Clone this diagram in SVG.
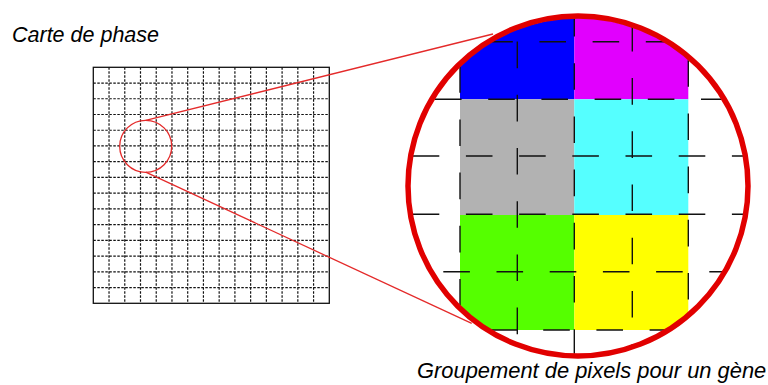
<svg xmlns="http://www.w3.org/2000/svg" width="768" height="385" viewBox="0 0 768 385">
<style>
.label{font-family:"Liberation Sans",Arial,sans-serif;font-style:italic;fill:#000;}
.smallgrid{fill:none;stroke:#111;stroke-width:1.2;stroke-dasharray:2.5 1.5;}
.biggrid{fill:none;stroke:#111;stroke-width:1.4;stroke-dasharray:26.6 26.6;}
.redthin{fill:none;stroke:#e42a2a;stroke-width:1.3;}
</style>
<defs>
<clipPath id="lensClip"><circle cx="578" cy="186" r="168"/></clipPath>
</defs>
<rect width="768" height="385" fill="#fff"/>
<g id="phase-map">
<path class="smallgrid" d="M109.03 67.3V303.3M124.77 67.3V303.3M140.5 67.3V303.3M156.23 67.3V303.3M171.97 67.3V303.3M187.7 67.3V303.3M203.43 67.3V303.3M219.17 67.3V303.3M234.9 67.3V303.3M250.63 67.3V303.3M266.37 67.3V303.3M282.1 67.3V303.3M297.83 67.3V303.3M313.57 67.3V303.3M93.3 83.03H329.3M93.3 98.77H329.3M93.3 114.5H329.3M93.3 130.23H329.3M93.3 145.97H329.3M93.3 161.7H329.3M93.3 177.43H329.3M93.3 193.17H329.3M93.3 208.9H329.3M93.3 224.63H329.3M93.3 240.37H329.3M93.3 256.1H329.3M93.3 271.83H329.3M93.3 287.57H329.3"/>
<rect x="93.3" y="67.3" width="236" height="236" fill="none" stroke="#111" stroke-width="1.3"/>
</g>
<g id="lens">
<circle class="redthin" cx="145.7" cy="146.3" r="26"/>
</g>
<g id="connectors">
<line class="redthin" x1="145.7" y1="120.4" x2="493" y2="34"/>
<line class="redthin" x1="145.7" y1="172.2" x2="471.7" y2="323.3"/>
</g>
<g id="zoom-view">
<g clip-path="url(#lensClip)">
<rect x="460" y="0" width="114.3" height="99.3" fill="#0000ff"/>
<rect x="574.3" y="0" width="114" height="99.3" fill="#e100fe"/>
<rect x="460" y="99.3" width="114.3" height="115.7" fill="#b2b2b2"/>
<rect x="574.3" y="99.3" width="114" height="115.7" fill="#55ffff"/>
<rect x="460" y="215" width="114.3" height="115" fill="#55ff00"/>
<rect x="574.3" y="215" width="114" height="115" fill="#ffff00"/>
<path class="biggrid" d="M379.8 41.7H770M381.8 99.3H770M359.5 156H770M359.5 214.3H770M390.1 271.7H770M383.6 330H770M460 13V370M517.3 -11.6V370M574.3 10V370M632.3 -28.3V370M688.3 7V370"/>
</g>
<circle cx="578" cy="186" r="170" fill="none" stroke="#e10000" stroke-width="5.5"/>
</g>
<text id="title" class="label" x="12" y="42" font-size="21.5">Carte de phase</text>
<text id="caption" class="label" x="417" y="378" font-size="21.9">Groupement de pixels pour un gène</text>
</svg>
